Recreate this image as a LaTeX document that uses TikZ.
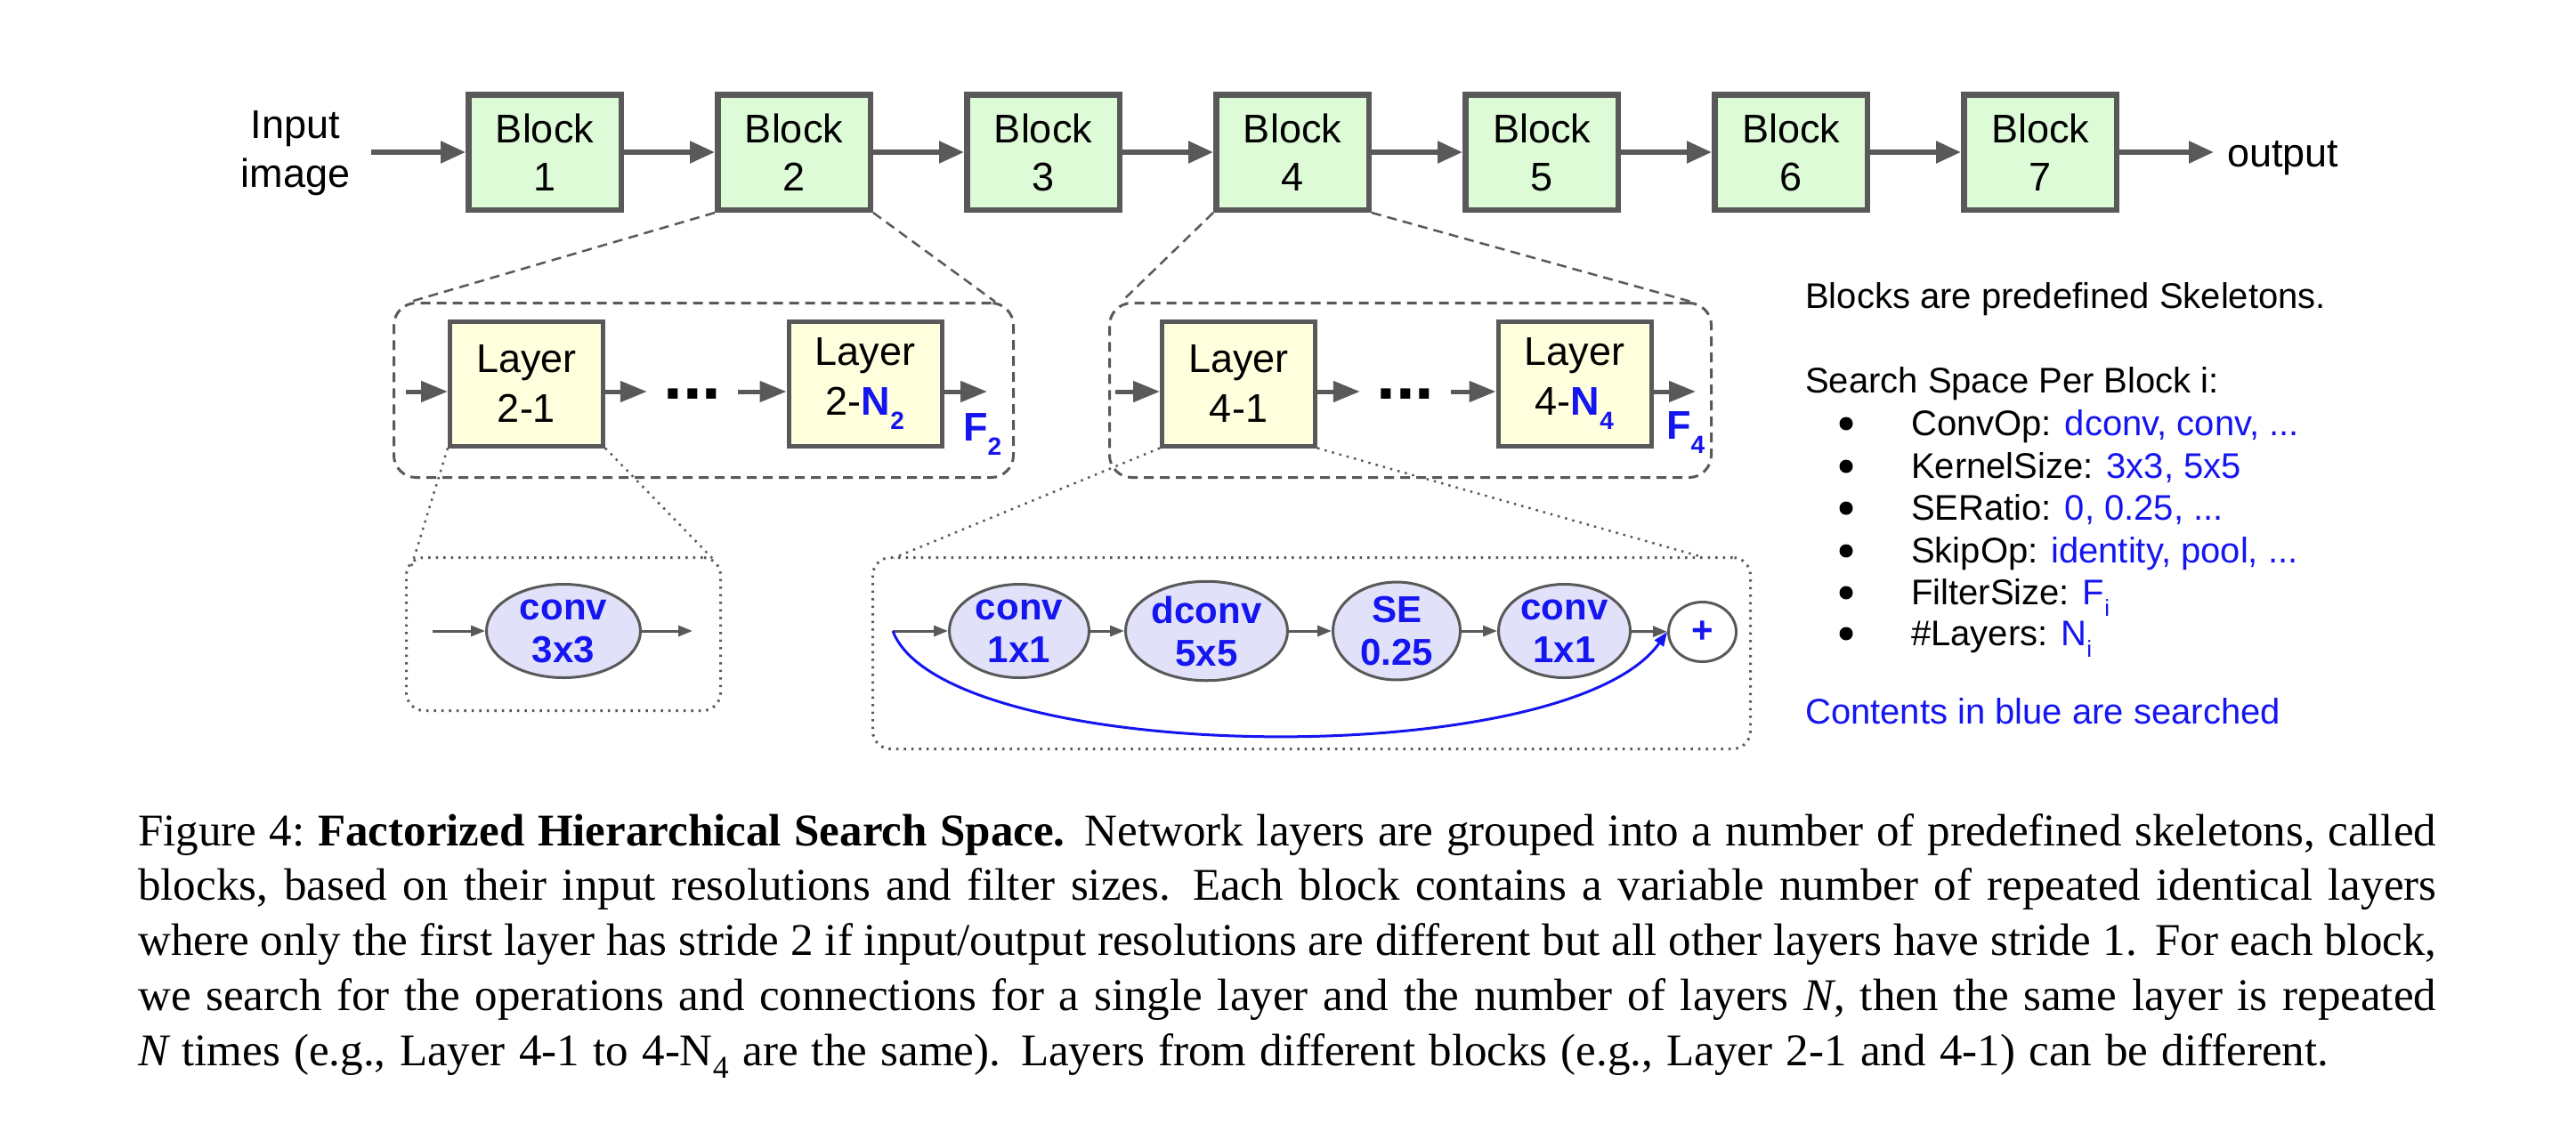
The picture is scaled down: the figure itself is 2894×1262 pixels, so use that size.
\documentclass[tikz,border=0pt]{standalone}
\usepackage{fontspec}
\setmainfont{Liberation Sans}
\newfontfamily\capfont{Liberation Serif}
\usetikzlibrary{arrows.meta,shapes.geometric,calc}
\definecolor{edgegray}{HTML}{595959}
\definecolor{blockgreen}{HTML}{DDFBD7}
\definecolor{layeryellow}{HTML}{FFFEDD}
\definecolor{oplav}{HTML}{E1E1F9}
\definecolor{srchblue}{HTML}{1515F0}
\newcommand\mysub[1]{\raisebox{-16pt}{\fontsize{28}{28}\selectfont #1}}
\newcommand\rsub[1]{\raisebox{-13pt}{\fontsize{26}{26}\selectfont #1}}
\begin{document}
\begin{tikzpicture}[x=1pt,y=-1pt,
  blockbox/.style={draw=edgegray, line width=6.5pt, fill=blockgreen, minimum width=171.5pt, minimum height=129.5pt, inner sep=0pt, align=center, font=\fontsize{45}{54}\selectfont},
  layerbox/.style={draw=edgegray, line width=5pt, fill=layeryellow, minimum width=172pt, minimum height=140pt, inner sep=0pt, align=center, font=\fontsize{45}{56}\selectfont},
  opnode/.style={ellipse, draw=edgegray, line width=3pt, fill=oplav, minimum height=105pt, inner sep=0pt, align=center, text=srchblue, font=\bfseries\fontsize{42}{48}\selectfont},
  dotsnode/.style={minimum width=102pt, minimum height=20pt, inner sep=0pt, font=\bfseries\fontsize{78}{78}\selectfont},
  toparrow/.style={draw=edgegray, line width=5.5pt, -{Triangle[length=28pt,width=24pt]}},
  layerarrow/.style={draw=edgegray, line width=5pt, -{Triangle[length=30pt,width=23pt]}},
  oparrow/.style={draw=edgegray, line width=3pt, -{Triangle[length=16pt,width=12pt]}},
  bluearrow/.style={draw=srchblue, line width=3pt, -{Triangle[length=16pt,width=12pt]}},
  dashpanel/.style={draw=edgegray, line width=3pt, dash pattern=on 11pt off 7pt, rounded corners=25pt, inner sep=0pt},
  dotpanel/.style={draw=edgegray, line width=3pt, dash pattern=on 2.5pt off 6pt, rounded corners=20pt, inner sep=0pt},
  zoomdash/.style={draw=edgegray, line width=2.5pt, dash pattern=on 11pt off 7pt},
  zoomdot/.style={draw=edgegray, line width=2.5pt, dash pattern=on 2.5pt off 6pt},
  rtext/.style={anchor=base west, inner sep=0pt, font=\fontsize{40}{47}\selectfont},
  bulletdot/.style={circle, fill=black, minimum size=15pt, inner sep=0pt}
]
\useasboundingbox (0,0) rectangle (2894,1262);

% ---------- top chain ----------
\node[align=center, font=\fontsize{45}{55}\selectfont, inner sep=0pt] (inp) at (332,172) {Input\\image};
\foreach \i in {1,...,7}
  \node[blockbox] (b\i) at ({612+280*(\i-1)},171) {Block\\\i};
\coordinate (inpt) at (417,171);
\coordinate (outpt) at (2487,171);
\draw[toparrow] (inpt) -- (b1);
\foreach \a/\b in {1/2,2/3,3/4,4/5,5/6,6/7}
  \draw[toparrow] (b\a) -- (b\b);
\draw[toparrow] (b7) -- (outpt);
\node[anchor=base west, inner sep=0pt, font=\fontsize{45}{55}\selectfont] (outlbl) at (2502,187) {output};

% ---------- layer panels ----------
\node[dashpanel, minimum width=696pt, minimum height=196pt] (p2) at (790.5,438.5) {};
\node[dashpanel, minimum width=676pt, minimum height=196pt] (p4) at (1584.5,438.5) {};

\node[layerbox] (l21) at (591.5,431) {Layer\\2-1};
\node[layerbox] (l2n) at (972,431) {Layer\\2-\textcolor{srchblue}{\bfseries N\mysub{2}}};
\node[dotsnode] (d2) at (778,440) {\smash{\raisebox{-8pt}{...}}};
\coordinate (l2in) at (456,440);
\coordinate (l2out) at (1109,440);
\draw[layerarrow] (l2in) -- (l2in -| l21.west);
\draw[layerarrow] (l21.east |- d2) -- (d2.west);
\draw[layerarrow] (d2.east) -- (d2 -| l2n.west);
\draw[layerarrow] (l2out -| l2n.east) -- (l2out);
\node[anchor=base west, inner sep=0pt, text=srchblue, font=\bfseries\fontsize{45}{45}\selectfont] (f2) at (1082,495) {F\mysub{2}};

\node[layerbox] (l41) at (1391.5,431) {Layer\\4-1};
\node[layerbox] (l4n) at (1769,431) {Layer\\4-\textcolor{srchblue}{\bfseries N\mysub{4}}};
\node[dotsnode] (d4) at (1579,440) {\smash{\raisebox{-8pt}{...}}};
\coordinate (l4in) at (1253,440);
\coordinate (l4out) at (1905,440);
\draw[layerarrow] (l4in) -- (l4in -| l41.west);
\draw[layerarrow] (l41.east |- d4) -- (d4.west);
\draw[layerarrow] (d4.east) -- (d4 -| l4n.west);
\draw[layerarrow] (l4out -| l4n.east) -- (l4out);
\node[anchor=base west, inner sep=0pt, text=srchblue, font=\bfseries\fontsize{45}{45}\selectfont] (f4) at (1872,493) {F\mysub{4}};

% zoom lines from blocks
\draw[zoomdash] (b2.south west) -- ($(p2.north west)+(20,0)$);
\draw[zoomdash] (b2.south east) -- ($(p2.north east)+(-22,0)$);
\draw[zoomdash] (b4.south west) -- ($(p4.north west)+(15,0)$);
\draw[zoomdash] (b4.south east) -- ($(p4.north east)+(-24,0)$);

% ---------- op panels ----------
\node[dotpanel, minimum width=353pt, minimum height=172pt] (q2) at (633,712.5) {};
\node[dotpanel, minimum width=986pt, minimum height=215pt] (q4) at (1473.5,734) {};

\node[opnode, minimum width=173pt] (c33) at (633,709) {conv\\3x3};
\coordinate (cin) at (486,709);
\coordinate (cout) at (778,709);
\draw[oparrow] (cin) -- (c33);
\draw[oparrow] (c33) -- (cout);

\node[opnode, minimum width=157pt] (o1) at (1145,709) {conv\\1x1};
\node[opnode, minimum width=182pt] (o2) at (1355.5,709) {dconv\\5x5};
\node[opnode, minimum width=143pt] (o3) at (1569,709) {SE\\0.25};
\node[opnode, minimum width=148pt] (o4) at (1757.5,709) {conv\\1x1};
\node[ellipse, draw=edgegray, line width=3pt, fill=white, minimum width=76pt, minimum height=67pt, inner sep=0pt, text=srchblue, font=\bfseries\fontsize{42}{42}\selectfont] (plus) at (1912.5,710) {+};
\coordinate (rin) at (1003,709);
\draw[oparrow] (rin) -- (o1);
\draw[oparrow] (o1) -- (o2);
\draw[oparrow] (o2) -- (o3);
\draw[oparrow] (o3) -- (o4);
\draw[oparrow] (o4) -- (plus);
\draw[bluearrow] (rin) .. controls (1060,860) and (1760,870) .. (plus.west);

% zoom lines from layers
\draw[zoomdot] (l21.south west) -- ($(q2.north west)+(7,12)$);
\draw[zoomdot] (l21.south east) -- ($(q2.north east)+(-11,2)$);
\draw[zoomdot] (l41.south west) -- ($(q4.north west)+(25,2)$);
\draw[zoomdot] (l41.south east) -- ($(q4.north east)+(-55,1)$);

% ---------- right-side text ----------
\node[rtext] (t1) at (2028,346.5) {Blocks are predefined Skeletons.};
\node[rtext] (t2) at (2028,441) {Search Space Per Block i:};
\node[bulletdot] (bu1) at (2074,476) {};
\node[bulletdot] (bu2) at (2074,524) {};
\node[bulletdot] (bu3) at (2074,571) {};
\node[bulletdot] (bu4) at (2074,619) {};
\node[bulletdot] (bu5) at (2074,666) {};
\node[bulletdot] (bu6) at (2074,712) {};
\node[rtext] (i1) at (2147,489) {ConvOp: \textcolor{srchblue}{dconv, conv, ...}};
\node[rtext] (i2) at (2147,537) {KernelSize: \textcolor{srchblue}{3x3, 5x5}};
\node[rtext] (i3) at (2147,584) {SERatio: \textcolor{srchblue}{0, 0.25, ...}};
\node[rtext] (i4) at (2147,632) {SkipOp: \textcolor{srchblue}{identity, pool, ...}};
\node[rtext] (i5) at (2147,679) {FilterSize: \textcolor{srchblue}{F\rsub{i}}};
\node[rtext] (i6) at (2147,725) {\#Layers: \textcolor{srchblue}{N\rsub{i}}};
\node[rtext, text=srchblue] (t3) at (2028,813) {Contents in blue are searched};

% ---------- caption ----------
\node[anchor=north west, inner sep=0pt, text width=2582pt, align=justify, font=\capfont\fontsize{51}{61.7}\selectfont] (cap) at (155,910)
{\parindent=0pt\sfcode`\:=1000\spaceskip=0.30em plus 0.2em minus 0.12em\xspaceskip=0.45em plus 0.2em minus 0.12em\rule{0pt}{40pt}Figure 4: \textbf{Factorized Hierarchical Search Space.} Network layers are grouped into a number of predefined skeletons, called\linebreak
blocks, based on their input resolutions and filter sizes. Each block contains a variable number of repeated identical layers\linebreak
where only the first layer has stride 2 if input/output resolutions are different but all other layers have stride 1. For each block,\linebreak
we search for the operations and connections for a single layer and the number of layers {\itshape N}, then the same layer is repeated\linebreak
{\itshape N} times (e.g., Layer 4-1 to 4-N\textsubscript{4} are the same). Layers from different blocks (e.g., Layer 2-1 and 4-1) can be different.};
\end{tikzpicture}
\end{document}
